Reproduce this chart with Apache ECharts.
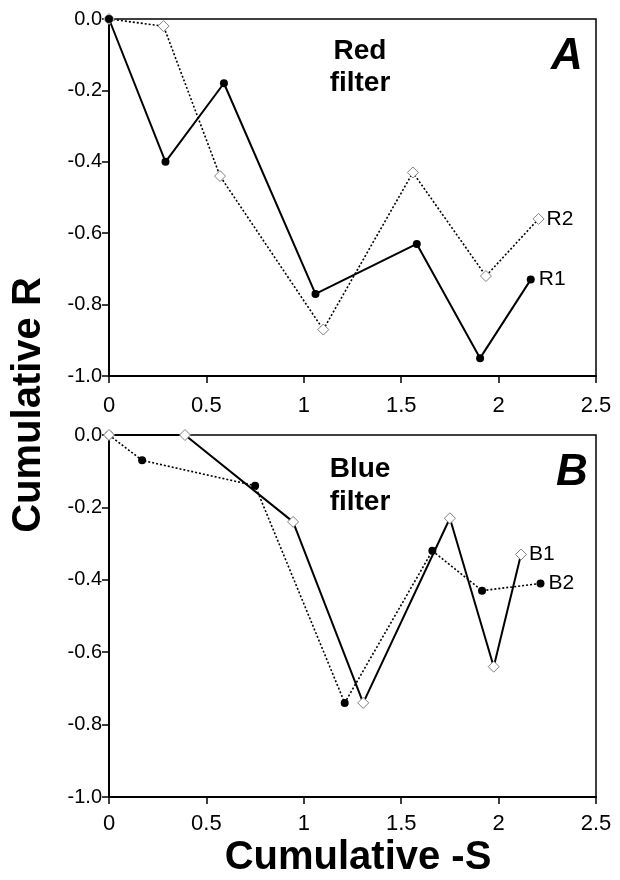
<!DOCTYPE html>
<html>
<head>
<meta charset="utf-8">
<script src="https://cdn.jsdelivr.net/npm/echarts@6/dist/echarts.min.js"></script>
<style>
html,body{margin:0;padding:0;background:#fff;}
#chart{width:620px;height:880px;}
</style>
</head>
<body>
<div id="chart"></div>
<script>
// ---- data ----
const xTickLabels = ['0', '0.5', '1', '1.5', '2', '2.5'];
const yTickLabels = ['-1.0', '-0.8', '-0.6', '-0.4', '-0.2', '0.0'];

// Panel A - Red filter
const r1X = [0, 0.29, 0.59, 1.06, 1.58, 1.905, 2.165];
const r1Y = [0, -0.40, -0.18, -0.77, -0.63, -0.95, -0.73];
const r2X = [0, 0.28, 0.57, 1.10, 1.56, 1.935, 2.205];
const r2Y = [0, -0.02, -0.44, -0.87, -0.43, -0.72, -0.56];

// Panel B - Blue filter
const b1X = [0, 0.39, 0.945, 1.305, 1.75, 1.975, 2.115];
const b1Y = [0, 0, -0.24, -0.74, -0.23, -0.64, -0.33];
const b2X = [0, 0.17, 0.75, 1.21, 1.66, 1.915, 2.215];
const b2Y = [0, -0.07, -0.14, -0.74, -0.32, -0.43, -0.41];

const zip = (xs, ys) => xs.map((x, i) => [x, ys[i]]);

const FONT = 'Liberation Sans, Arial, sans-serif';

function xAxisDef(gridIndex, margin) {
  return {
    type: 'value', gridIndex, min: 0, max: 2.5, interval: 0.5,
    axisLine: { show: true, onZero: false, lineStyle: { color: '#000', width: 2 } },
    axisTick: { show: true, inside: false, length: 7, lineStyle: { color: '#000', width: 1.5 } },
    axisLabel: {
      color: '#000', fontSize: 22, fontFamily: FONT, margin,
      formatter: v => xTickLabels[Math.round(v / 0.5)]
    },
    splitLine: { show: false }
  };
}
function yAxisDef(gridIndex) {
  return {
    type: 'value', gridIndex, min: -1, max: 0, interval: 0.2,
    axisLine: { show: true, onZero: false, lineStyle: { color: '#000', width: 2 } },
    axisTick: { show: true, inside: false, length: 7, lineStyle: { color: '#000', width: 1.5 } },
    axisLabel: {
      color: '#000', fontSize: 20, fontFamily: FONT, margin: 7,
      formatter: v => yTickLabels[Math.round((v + 1) / 0.2)]
    },
    splitLine: { show: false }
  };
}

function makeSeries(name, data, idx, symbol, dottedLine) {
  return Object.assign({
    name, type: 'line', data, xAxisIndex: idx, yAxisIndex: idx,
    lineStyle: dottedLine ? { color: '#000', width: 1.6, type: [2, 2] } : { color: '#000', width: 2, type: 'solid' },
    emphasis: { disabled: true }, silent: true, animation: false,
    endLabel: { show: true, formatter: name, color: '#000', fontSize: 21, fontFamily: FONT, distance: 8 }
  }, symbol);
}
const filledCircle = {
  symbol: 'circle', symbolSize: 8, showAllSymbol: true,
  itemStyle: { color: '#000', borderColor: '#000', borderWidth: 0 }
};
const openDiamond = {
  symbol: 'diamond', symbolSize: [11, 11], showAllSymbol: true,
  itemStyle: { color: '#fff', borderColor: '#808080', borderWidth: 1 }
};

const option = {
  backgroundColor: '#fff',
  animation: false,
  grid: [
    { left: 109, top: 19, width: 487, height: 357, show: true, borderColor: '#000', borderWidth: 1.5, backgroundColor: 'transparent' },
    { left: 109, top: 435, width: 487, height: 362, show: true, borderColor: '#000', borderWidth: 1.5, backgroundColor: 'transparent' }
  ],
  xAxis: [xAxisDef(0, 19), xAxisDef(1, 16)],
  yAxis: [yAxisDef(0), yAxisDef(1)],
  series: [
    makeSeries('R2', zip(r2X, r2Y), 0, openDiamond, true),
    makeSeries('R1', zip(r1X, r1Y), 0, filledCircle, false),
    makeSeries('B2', zip(b2X, b2Y), 1, filledCircle, true),
    makeSeries('B1', zip(b1X, b1Y), 1, openDiamond, false)
  ],
  graphic: [
    { type: 'text', style: { text: 'Red', x: 360, y: 51, textAlign: 'center', textVerticalAlign: 'middle', font: 'bold 28px ' + FONT, fill: '#000' } },
    { type: 'text', style: { text: 'filter', x: 360, y: 83, textAlign: 'center', textVerticalAlign: 'middle', font: 'bold 28px ' + FONT, fill: '#000' } },
    { type: 'text', style: { text: 'A', x: 567, y: 57, textAlign: 'center', textVerticalAlign: 'middle', font: 'italic bold 44px ' + FONT, fill: '#000' } },
    { type: 'text', style: { text: 'Blue', x: 360, y: 469, textAlign: 'center', textVerticalAlign: 'middle', font: 'bold 28px ' + FONT, fill: '#000' } },
    { type: 'text', style: { text: 'filter', x: 360, y: 502, textAlign: 'center', textVerticalAlign: 'middle', font: 'bold 28px ' + FONT, fill: '#000' } },
    { type: 'text', style: { text: 'B', x: 572, y: 473, textAlign: 'center', textVerticalAlign: 'middle', font: 'italic bold 44px ' + FONT, fill: '#000' } },
    { type: 'text', x: 29, y: 405, rotation: Math.PI / 2, style: { text: 'Cumulative R', x: 0, y: 0, textAlign: 'center', textVerticalAlign: 'middle', font: 'bold 40px ' + FONT, fill: '#000' } },
    { type: 'text', style: { text: 'Cumulative -S', x: 358, y: 858, textAlign: 'center', textVerticalAlign: 'middle', font: 'bold 40px ' + FONT, fill: '#000' } }
  ]
};

const chart = echarts.init(document.getElementById('chart'), null, { renderer: 'canvas' });
chart.setOption(option);
</script>
</body>
</html>
